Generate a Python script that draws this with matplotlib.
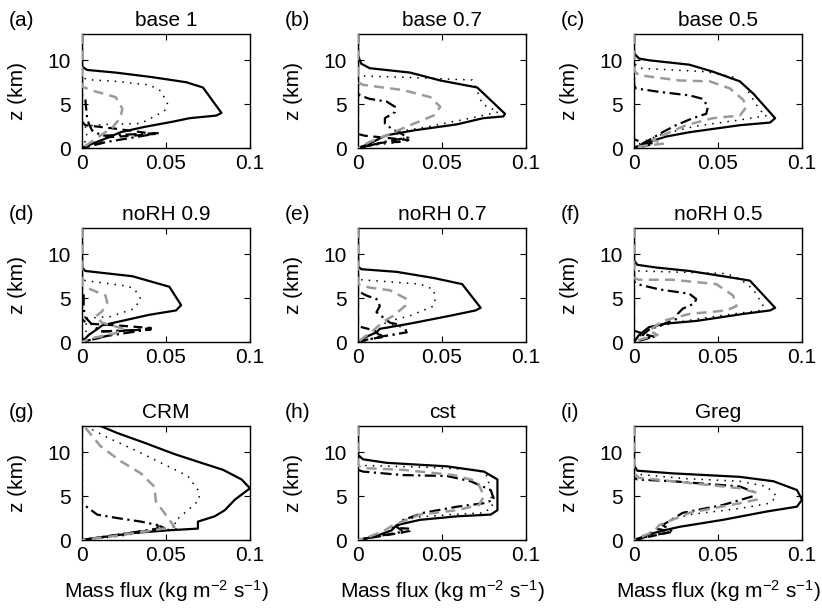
import matplotlib
matplotlib.use("Agg")
from matplotlib import pyplot as plt

plt.rcParams['font.family'] = ['Liberation Sans', 'DejaVu Sans']
plt.rcParams['mathtext.fontset'] = 'custom'
plt.rcParams['mathtext.rm'] = 'Liberation Sans'
plt.rcParams['mathtext.default'] = 'regular'

letters = ["(a)", "(b)", "(c)", "(d)", "(e)", "(f)", "(g)", "(h)", "(i)"]
titles = ["base 1", "base 0.7", "base 0.5", "noRH 0.9", "noRH 0.7", "noRH 0.5", "CRM", "cst", "Greg"]
x_ticks = [0, 0.05, 0.1]
x_ticklabels = ["0", "0.05", "0.1"]
z_ticks = [0, 5, 10]

# each series: [mass flux values], [heights in km]
a_solid = ([0, 0, 0.003, 0.02, 0.041, 0.062, 0.072, 0.083, 0.080, 0.064, 0.054, 0.037, 0.023, 0.013, 0.005, 0],
           [13, 9.3, 8.9, 8.6, 8.1, 7.5, 6.9, 4.0, 3.7, 3.4, 3.0, 2.4, 1.8, 1.0, 0.4, 0])
a_dot = ([0, 0, 0.003, 0.02, 0.04, 0.047, 0.051, 0.049, 0.035, 0.015, 0.002, 0.003, 0],
         [13, 8.1, 7.8, 7.6, 7.2, 6.5, 5.0, 4.2, 2.8, 2.7, 2.5, 1.2, 0])
a_gray = ([0, 0, 0.007, 0.02, 0.024, 0.023, 0.018, 0.01, 0.004, 0],
          [13, 7.0, 6.5, 5.8, 4.5, 3.5, 2.3, 1.3, 0.5, 0])
a_dashdot = ([0, 0, 0.002, 0.003, 0.004, 0.006, 0.012, 0.046, 0.015, 0.004, 0],
             [13, 6.0, 5.5, 3.5, 2.8, 2.0, 1.4, 1.7, 0.7, 0.2, 0])
a_dash = ([0, 0, 0.002, 0.02, 0.043, 0.03, 0.013, 0.012, 0],
          [13, 3.0, 2.6, 2.2, 1.6, 1.4, 1.2, 0.6, 0])

b_solid = ([0, 0, 0.002, 0.007, 0.031, 0.049, 0.071, 0.0875, 0.0865, 0.0745, 0.059, 0.033, 0.017, 0.013, 0.007, 0],
           [13, 10.5, 9.6, 9.1, 8.6, 7.7, 6.9, 3.9, 3.6, 3.4, 2.7, 2.0, 1.45, 1.1, 0.5, 0])
b_dot = ([0, 0, 0.004, 0.03, 0.068, 0.071, 0.074, 0.0835, 0.067, 0.041, 0.022, 0.028, 0.022, 0.008, 0],
         [13, 8.5, 8.2, 8.05, 7.75, 6.5, 5.0, 4.1, 3.4, 2.4, 1.8, 1.0, 0.6, 0.3, 0])
b_gray = ([0, 0, 0.003, 0.027, 0.043, 0.049, 0.045, 0.031, 0.019, 0.007, 0],
          [13, 7.5, 7.2, 6.6, 5.8, 4.7, 3.7, 2.6, 1.6, 0.7, 0])
b_dashdot = ([0, 0, 0.001, 0.007, 0.017, 0.022, 0.022, 0.016, 0.016, 0.02, 0.03, 0.016, 0.005, 0],
             [13, 6.5, 6.0, 5.6, 5.3, 4.7, 4.1, 3.4, 2.8, 2.2, 1.2, 0.7, 0.2, 0])
b_dash = ([0, 0, 0.004, 0.015, 0.03, 0.025, 0.014, 0.005, 0],
          [13, 1.6, 1.4, 1.2, 0.9, 0.7, 0.6, 0.2, 0])

c_solid = ([0, 0, 0.003, 0.009, 0.033, 0.047, 0.063, 0.071, 0.084, 0.081, 0.063, 0.033, 0.019, 0.009, 0],
           [13, 10.8, 10.2, 10.0, 9.5, 8.7, 7.6, 6.2, 3.4, 2.9, 2.6, 1.8, 1.3, 0.7, 0])
c_dot = ([0, 0, 0.003, 0.043, 0.059, 0.065, 0.071, 0.075, 0.079, 0.063, 0.037, 0.017, 0.005, 0],
         [13, 9.7, 9.1, 8.7, 8.1, 7.4, 5.5, 4.3, 3.7, 3.2, 2.5, 1.6, 0.7, 0])
c_gray = ([0, 0, 0.003, 0.027, 0.045, 0.057, 0.065, 0.067, 0.063, 0.047, 0.031, 0.019, 0.011, 0.018, 0.004, 0],
          [13, 8.8, 8.3, 7.7, 7.6, 6.8, 5.5, 4.7, 3.7, 3.4, 2.6, 1.6, 0.9, 0.5, 0.2, 0])
c_dashdot = ([0, 0, 0.001, 0.015, 0.033, 0.041, 0.044, 0.043, 0.035, 0.025, 0.017, 0.009, 0],
             [13, 7.2, 6.8, 6.4, 6.0, 5.6, 4.7, 3.9, 3.4, 2.6, 1.8, 0.9, 0])
c_dash = ([0, 0, 0.004, 0.012, 0.006, 0],
          [13, 1.0, 0.7, 0.5, 0.2, 0])

d_solid = ([0, 0, 0.002, 0.030, 0.052, 0.059, 0.056, 0.040, 0.026, 0.012, 0.010, 0.004, 0],
           [13, 8.5, 8.1, 7.5, 6.3, 4.2, 3.6, 3.1, 2.5, 1.9, 1.6, 0.8, 0])
d_dot = ([0, 0, 0.002, 0.026, 0.031, 0.035, 0.031, 0.017, 0.002, 0.003, 0],
         [13, 7.2, 7.0, 6.4, 6.1, 4.9, 3.8, 2.9, 2.7, 1.5, 0])
d_gray = ([0, 0, 0.004, 0.014, 0.015, 0.012, 0.008, 0.012, 0.025, 0.02, 0.005, 0],
          [13, 6.5, 6.1, 5.3, 4.5, 3.5, 2.9, 2.2, 1.5, 1.0, 0.4, 0])
d_dashdot = ([0, 0, 0.001, 0.001, 0.002, 0.006, 0.011, 0.041, 0.015, 0.004, 0],
             [13, 6.0, 5.5, 3.8, 2.8, 2.0, 1.2, 1.45, 0.7, 0.2, 0])
d_dash = ([0, 0, 0.003, 0.02, 0.041, 0.03, 0.012, 0.011, 0],
          [13, 2.6, 2.1, 1.9, 1.6, 1.3, 1.2, 0.5, 0])

e_solid = ([0, 0, 0.002, 0.023, 0.045, 0.062, 0.073, 0.070, 0.055, 0.031, 0.013, 0.011, 0.005, 0],
           [13, 8.6, 8.3, 8.0, 7.3, 6.6, 3.9, 3.6, 3.0, 2.1, 1.5, 1.1, 0.6, 0])
e_dot = ([0, 0, 0.002, 0.037, 0.045, 0.046, 0.045, 0.031, 0.015, 0.028, 0.029, 0.01, 0],
         [13, 7.3, 7.1, 6.6, 6.0, 4.9, 4.1, 3.0, 2.2, 1.6, 1.1, 0.4, 0])
e_gray = ([0, 0, 0.007, 0.019, 0.029, 0.028, 0.021, 0.015, 0.009, 0.004, 0],
          [13, 6.6, 6.2, 5.9, 4.9, 4.1, 3.0, 2.3, 1.3, 0.6, 0])
e_dashdot = ([0, 0, 0.005, 0.011, 0.013, 0.011, 0.019, 0.027, 0.029, 0.013, 0],
             [13, 5.8, 5.3, 4.9, 4.1, 3.4, 2.2, 1.9, 1.1, 0.6, 0])
e_dash = ([0, 0, 0.01, 0.012, 0.016, 0.006, 0],
          [13, 1.8, 1.3, 0.9, 0.6, 0.3, 0])

f_solid = ([0, 0, 0.002, 0.013, 0.033, 0.053, 0.069, 0.084, 0.081, 0.065, 0.037, 0.019, 0.009, 0.003, 0],
           [13, 9.3, 8.8, 8.5, 8.1, 7.5, 7.0, 3.9, 3.6, 3.2, 2.4, 2.1, 1.7, 0.8, 0])
f_dot = ([0, 0, 0.002, 0.03, 0.055, 0.063, 0.071, 0.077, 0.075, 0.051, 0.027, 0.009, 0.003, 0],
         [13, 8.3, 8.1, 7.95, 7.8, 7.2, 6.0, 4.1, 3.6, 3.0, 2.3, 1.5, 0.6, 0])
f_gray = ([0, 0, 0.003, 0.023, 0.049, 0.059, 0.061, 0.055, 0.033, 0.017, 0.009, 0.014, 0.004, 0],
          [13, 7.3, 7.1, 7.1, 6.6, 5.3, 4.1, 3.6, 3.2, 2.4, 1.3, 0.8, 0.3, 0])
f_dashdot = ([0, 0, 0.002, 0.015, 0.033, 0.037, 0.036, 0.029, 0.026, 0.025, 0.009, 0.005, 0.011, 0.002, 0],
             [13, 6.9, 6.6, 6.0, 5.5, 4.9, 4.4, 3.8, 3.2, 2.6, 1.4, 0.8, 0.6, 0.1, 0])
f_dash = ([0, 0, 0.006, 0.012, 0.004, 0],
          [13, 1.3, 0.9, 0.6, 0.2, 0])

g_solid = ([0.011, 0.021, 0.037, 0.055, 0.071, 0.084, 0.095, 0.100, 0.091, 0.085, 0.079, 0.069, 0.069, 0.051, 0.031, 0.011, 0],
           [13.0, 12.2, 11.1, 9.8, 8.8, 8.0, 6.9, 5.9, 4.6, 3.4, 2.7, 2.1, 1.3, 1.1, 0.8, 0.3, 0])
g_dot = ([0.002, 0.015, 0.031, 0.047, 0.063, 0.069, 0.070, 0.063, 0.055, 0.057, 0.041, 0.021, 0],
         [13, 11.7, 10.3, 8.8, 7.3, 5.7, 4.6, 3.4, 2.1, 1.3, 1.0, 0.4, 0])
g_gray = ([0.002, 0.011, 0.023, 0.035, 0.043, 0.044, 0.049, 0.055, 0.039, 0.017, 0],
          [12.8, 10.7, 9.0, 7.6, 6.1, 4.4, 3.1, 1.5, 1.0, 0.4, 0])
g_dashdot = ([0, 0, 0.002, 0.009, 0.021, 0.035, 0.045, 0.045, 0.021, 0],
             [13, 4.2, 3.9, 2.9, 2.5, 2.1, 1.7, 1.3, 0.6, 0])
g_dash = ([0, 0.03, 0.05, 0.046],
          [0, 0.8, 1.3, 1.6])

h_solid = ([0, 0, 0.003, 0.017, 0.053, 0.075, 0.083, 0.083, 0.079, 0.059, 0.037, 0.023, 0.020, 0.010, 0],
           [13, 9.7, 9.2, 8.8, 8.4, 7.8, 6.9, 3.4, 2.9, 2.7, 2.3, 1.7, 1.1, 0.4, 0])
h_dot = ([0, 0, 0.003, 0.04, 0.071, 0.077, 0.079, 0.080, 0.075, 0.055, 0.035, 0.027, 0.024, 0.031, 0.015, 0],
         [13, 8.6, 8.5, 8.3, 8.0, 7.3, 5.3, 3.8, 3.1, 2.9, 2.6, 2.3, 1.6, 1.0, 0.5, 0])
h_gray = ([0, 0, 0.003, 0.027, 0.057, 0.071, 0.075, 0.072, 0.059, 0.037, 0.021, 0.015, 0.007, 0],
          [13, 8.5, 8.2, 8.0, 7.4, 6.7, 5.0, 4.0, 3.4, 2.9, 1.7, 1.0, 0.4, 0])
h_dashdot = ([0, 0, 0.003, 0.027, 0.053, 0.067, 0.079, 0.081, 0.075, 0.059, 0.039, 0.027, 0.023, 0.027, 0.008, 0],
             [13, 8.0, 7.8, 7.4, 7.3, 6.7, 5.7, 4.6, 4.2, 3.8, 3.1, 2.3, 1.5, 0.95, 0.3, 0])
h_dash = ([0, 0.012, 0.025, 0.032, 0.03, 0.02],
          [0, 0.4, 0.8, 1.1, 1.3, 1.4])

i_solid = ([0, 0, 0.002, 0.023, 0.063, 0.083, 0.097, 0.100, 0.097, 0.079, 0.053, 0.027, 0.019, 0.011, 0],
           [13, 8.5, 7.9, 7.6, 7.2, 6.7, 5.7, 4.6, 3.8, 3.25, 2.3, 1.5, 1.15, 0.76, 0])
i_dot = ([0, 0, 0.002, 0.03, 0.063, 0.079, 0.085, 0.081, 0.063, 0.033, 0.019, 0.015, 0.009, 0],
         [13, 7.7, 7.5, 7.0, 6.7, 6.1, 5.0, 4.2, 3.6, 2.9, 2.1, 1.3, 0.8, 0])
i_gray = ([0, 0, 0.003, 0.033, 0.063, 0.073, 0.073, 0.063, 0.033, 0.015, 0.012, 0.005, 0],
          [13, 7.6, 7.1, 6.5, 5.9, 5.4, 4.6, 4.2, 3.1, 1.7, 1.0, 0.4, 0])
i_dashdot = ([0, 0, 0.002, 0.023, 0.063, 0.071, 0.071, 0.053, 0.029, 0.017, 0.023, 0.008, 0],
             [13, 7.1, 6.9, 6.7, 6.1, 5.5, 5.0, 4.0, 3.1, 1.7, 0.96, 0.4, 0])
i_dash = ([0, 0.012, 0.022, 0.016, 0.012],
          [0, 0.5, 0.9, 1.2, 1.3])

panel_series = [
    [a_solid, a_dot, a_dashdot, a_dash, a_gray],
    [b_solid, b_dot, b_dashdot, b_dash, b_gray],
    [c_solid, c_dot, c_dashdot, c_dash, c_gray],
    [d_solid, d_dot, d_dashdot, d_dash, d_gray],
    [e_solid, e_dot, e_dashdot, e_dash, e_gray],
    [f_solid, f_dot, f_dashdot, f_dash, f_gray],
    [g_solid, g_dot, g_dashdot, g_dash, g_gray],
    [h_solid, h_dot, h_dashdot, h_dash, h_gray],
    [i_solid, i_dot, i_dashdot, i_dash, i_gray],
]

line_styles = [
    dict(color='black', linewidth=1.6, linestyle='-'),
    dict(color='black', linewidth=1.1, linestyle=(0, (1, 4))),
    dict(color='black', linewidth=1.6, linestyle=(0, (5, 2, 1, 2))),
    dict(color='black', linewidth=1.6, linestyle=(0, (4, 2.5))),
    dict(color='#9a9a9a', linewidth=1.8, linestyle=(0, (4, 2.5))),
]

W, H = 822, 610
col_left = [82, 358, 634]
row_top = [34, 228, 426]
ax_w, ax_h = 168, 114
FS = 15


def make_plot():
    fig = plt.figure(figsize=(W / 100, H / 100), dpi=100)

    for k, series in enumerate(panel_series):
        r, c = divmod(k, 3)
        left = col_left[c] / W
        bottom = (H - row_top[r] - ax_h) / H
        ax = fig.add_axes([left, bottom, ax_w / W, ax_h / H])

        for (xs, zs), st in zip(series, line_styles):
            ax.plot(xs, zs, zorder=3, solid_capstyle='butt', dash_capstyle='butt', **st)

        ax.set_xlim(0, 0.1)
        ax.set_ylim(0, 13)
        ax.set_xticks(x_ticks)
        ax.set_xticklabels(x_ticklabels)
        ax.set_yticks(z_ticks)
        ax.tick_params(axis='both', direction='in', top=True, right=True,
                       length=4, width=0.8, labelsize=FS)
        ax.tick_params(axis='x', pad=4)
        ax.tick_params(axis='y', pad=8)
        for sp in ax.spines.values():
            sp.set_linewidth(1.0)

        ax.set_title(titles[k], fontsize=FS, pad=6)
        ax.annotate(letters[k], xy=(0, 1), xycoords='axes fraction',
                    xytext=(-53, 6), textcoords='offset points',
                    ha='left', va='baseline', fontsize=FS)
        ax.set_ylabel("z (km)", fontsize=FS)
        ax.yaxis.set_label_coords(-0.33, 0.5)
        if r == 2:
            ax.set_xlabel("Mass flux (kg m$^{-2}$ s$^{-1}$)", fontsize=FS)
            ax.xaxis.set_label_coords(0.5, -0.33)

    fig.savefig("out.png", dpi=100)


if __name__ == "__main__":
    make_plot()
